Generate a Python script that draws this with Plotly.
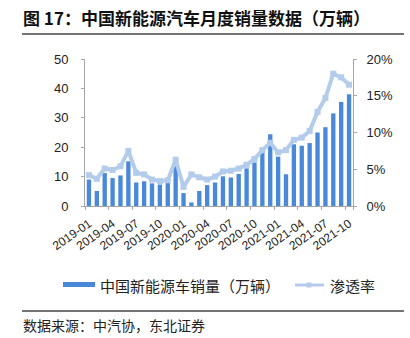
import plotly.graph_objects as go

months = [f"{y}-{m:02d}" for y in (2019, 2020, 2021) for m in range(1, 13)][:34]

sales = [9.0, 5.1, 11.2, 9.5, 10.4, 15.2, 8.0, 8.4, 7.7, 7.3, 8.8, 14.3,
         4.4, 1.2, 5.1, 7.1, 8.0, 10.1, 9.7, 10.9, 12.8, 14.8, 18.0, 24.4,
         16.8, 10.8, 21.0, 20.5, 21.4, 25.0, 26.8, 31.5, 35.4, 38.0]

penetration = [4.2, 3.7, 5.1, 4.9, 5.4, 7.5, 4.5, 4.3, 3.6, 3.4, 3.5, 6.3,
               2.6, 4.3, 3.9, 3.6, 4.0, 4.7, 4.8, 5.1, 5.6, 6.4, 7.6, 8.6,
               7.3, 7.6, 9.0, 9.3, 10.2, 12.8, 14.7, 18.0, 17.5, 16.5]

tick_labels = months[::3]

title_text = "图 17：中国新能源汽车月度销量数据（万辆）"
bar_name = "中国新能源车销量（万辆）"
line_name = "渗透率"
source_text = "数据来源：中汽协，东北证券"

BAR_COLOR = "#4A88DA"
LINE_COLOR = "#B4CCEB"
AXIS_COLOR = "#A6A6A6"
CJK = "Noto Sans CJK SC"
LAT = "Liberation Sans, Arial"

# plot area in pixels
L, R, T, B = 85, 353, 59, 206
W, H = 410, 338
def px(x):
    return (x - L) / (R - L)
def py(y):
    return (B - y) / (B - T)

fig = go.Figure()
fig.add_trace(go.Bar(x=months, y=sales, name=bar_name, marker_color=BAR_COLOR,
                     marker_line_width=0, yaxis="y"))
fig.add_trace(go.Scatter(x=months, y=penetration, name=line_name, yaxis="y2",
                         mode="lines+markers",
                         line=dict(color=LINE_COLOR, width=4),
                         marker=dict(symbol="square", size=6, color=LINE_COLOR)))

fig.update_layout(
    width=W, height=H,
    margin=dict(l=L, r=W - R, t=T, b=H - B),
    paper_bgcolor="white", plot_bgcolor="white",
    showlegend=False,
    bargap=0.45,
    font=dict(family=LAT, size=12, color="#222"),
    xaxis=dict(type="category", tickmode="array", tickvals=tick_labels, ticktext=tick_labels,
               tickangle=-35, showgrid=False, showline=True, linecolor=AXIS_COLOR,
               linewidth=1, ticks="outside", tickson="boundaries", ticklen=3,
               tickcolor=AXIS_COLOR, ticklabelstandoff=5,
               tickfont=dict(family=LAT, size=12, color="#222"),
               range=[-0.5, 33.5]),
    yaxis=dict(range=[0, 50], dtick=10, showgrid=False, showline=True, linecolor=AXIS_COLOR,
               ticks="outside", ticklen=3, tickcolor=AXIS_COLOR, zeroline=False,
               ticklabelstandoff=10, tickfont=dict(family=LAT, size=13, color="#222")),
    yaxis2=dict(range=[0, 20], dtick=5, ticksuffix="%", overlaying="y", side="right",
                showgrid=False, showline=True, linecolor=AXIS_COLOR, ticks="outside",
                ticklen=3, tickcolor=AXIS_COLOR, zeroline=False, ticklabelstandoff=7,
                tickfont=dict(family=LAT, size=13, color="#222")),
)

shapes = [
    dict(type="line", xref="paper", yref="paper", x0=px(22), x1=px(404), y0=py(34), y1=py(34),
         line=dict(color="#444", width=1.5)),
    dict(type="line", xref="paper", yref="paper", x0=px(22), x1=px(404), y0=py(311), y1=py(311),
         line=dict(color="#444", width=1.5)),
    dict(type="rect", xref="paper", yref="paper", x0=px(63), x1=px(95), y0=py(287), y1=py(282),
         fillcolor=BAR_COLOR, line=dict(width=0)),
    dict(type="line", xref="paper", yref="paper", x0=px(295), x1=px(324), y0=py(285), y1=py(285),
         line=dict(color=LINE_COLOR, width=3)),
    dict(type="rect", xref="paper", yref="paper", x0=px(306.5), x1=px(311.5), y0=py(287.5), y1=py(282.5),
         fillcolor=LINE_COLOR, line=dict(width=0)),
]
fig.update_layout(shapes=shapes)

annotations = [
    dict(text=f"<b>{title_text}</b>", xref="paper", yref="paper", x=px(21), y=py(18),
         xanchor="left", yanchor="middle", showarrow=False,
         font=dict(family=CJK, size=17, color="#111")),
    dict(text=bar_name, xref="paper", yref="paper", x=px(98), y=py(285),
         xanchor="left", yanchor="middle", showarrow=False,
         font=dict(family=CJK, size=15, color="#222")),
    dict(text=line_name, xref="paper", yref="paper", x=px(328), y=py(285),
         xanchor="left", yanchor="middle", showarrow=False,
         font=dict(family=CJK, size=15, color="#222")),
    dict(text=source_text, xref="paper", yref="paper", x=px(21), y=py(325),
         xanchor="left", yanchor="middle", showarrow=False,
         font=dict(family=CJK, size=14, color="#222")),
]
fig.update_layout(annotations=annotations)

fig.write_html("out.html")
